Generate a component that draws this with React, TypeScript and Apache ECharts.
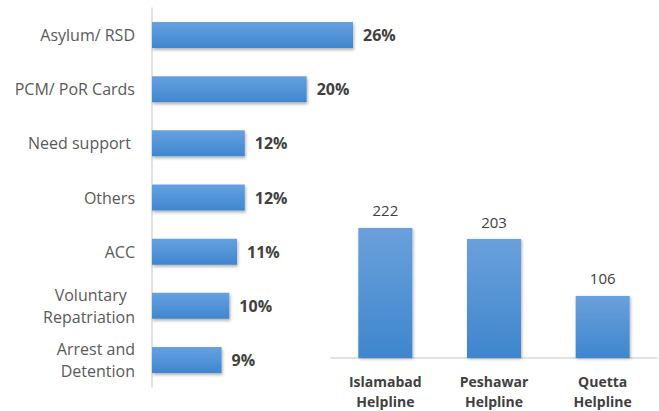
import React, { useEffect, useRef } from "react";
import * as echarts from "echarts";

const issueCategories = [
  "Asylum/ RSD",
  "PCM/ PoR Cards",
  "Need support\u00a0",
  "Others",
  "ACC",
  "Voluntary\u00a0\u00a0\nRepatriation",
  "Arrest and\nDetention",
];
const issueShares = [26, 20, 12, 12, 11, 10, 9];

const helplineCategories = ["Islamabad\nHelpline", "Peshawar\nHelpline", "Quetta\nHelpline"];
const helplineCalls = [222, 203, 106];

const FONT = "'Open Sans', 'Noto Sans', sans-serif";

export default function App() {
  const ref = useRef<HTMLDivElement>(null);
  useEffect(() => {
    if (!ref.current) return;
    const chart = echarts.init(ref.current, null, { renderer: "svg" });
    const grad = (h: boolean) =>
      new echarts.graphic.LinearGradient(0, 0, 0, 1, [
        { offset: 0, color: h ? "#66a1df" : "#6aa0db" },
        { offset: 1, color: h ? "#3f86cf" : "#3e86cd" },
      ]);
    chart.setOption({
      animation: false,
      textStyle: { fontFamily: FONT },
      grid: [
        { left: 152, top: 8, width: 232, height: 379 },
        { left: 331, top: 211.5, width: 326, height: 147.5 },
      ],
      xAxis: [
        {
          gridIndex: 0,
          type: "value",
          min: 0,
          max: 30,
          show: false,
        },
        {
          gridIndex: 1,
          type: "category",
          data: helplineCategories,
          axisLine: { lineStyle: { color: "#d9d9d9", width: 1.5 } },
          axisTick: { show: false },
          axisLabel: {
            color: "#404040",
            fontWeight: "bold",
            fontSize: 14,
            lineHeight: 20,
            margin: 13,
            fontFamily: FONT,
          },
        },
      ],
      yAxis: [
        {
          gridIndex: 0,
          type: "category",
          inverse: true,
          data: issueCategories,
          axisLine: { lineStyle: { color: "#d9d9d9", width: 1.5 } },
          axisTick: { show: false },
          axisLabel: {
            color: "#595959",
            fontSize: 16,
            lineHeight: 22,
            margin: 17,
            fontFamily: FONT,
          },
        },
        {
          gridIndex: 1,
          type: "value",
          min: 0,
          max: 250,
          show: false,
        },
      ],
      series: [
        {
          type: "bar",
          xAxisIndex: 0,
          yAxisIndex: 0,
          data: issueShares,
          barWidth: 26,
          itemStyle: {
            color: grad(true),
            shadowColor: "rgba(0,0,0,0.3)",
            shadowBlur: 3,
            shadowOffsetX: 1,
            shadowOffsetY: 2,
          },
          label: {
            show: true,
            position: "right",
            distance: 10,
            formatter: "{c}%",
            color: "#404040",
            fontWeight: "bold",
            fontSize: 16,
            fontFamily: FONT,
          },
        },
        {
          type: "bar",
          xAxisIndex: 1,
          yAxisIndex: 1,
          data: helplineCalls,
          barWidth: 54,
          itemStyle: {
            color: grad(false),
            shadowColor: "rgba(0,0,0,0.3)",
            shadowBlur: 3,
            shadowOffsetX: 1,
            shadowOffsetY: 1,
          },
          label: {
            show: true,
            position: "top",
            distance: 10,
            color: "#404040",
            fontSize: 15,
            fontFamily: FONT,
          },
        },
      ],
    });
    return () => chart.dispose();
  }, []);
  return <div ref={ref} style={{ width: 659, height: 411, position: "absolute", left: 0, top: 0 }} />;
}
